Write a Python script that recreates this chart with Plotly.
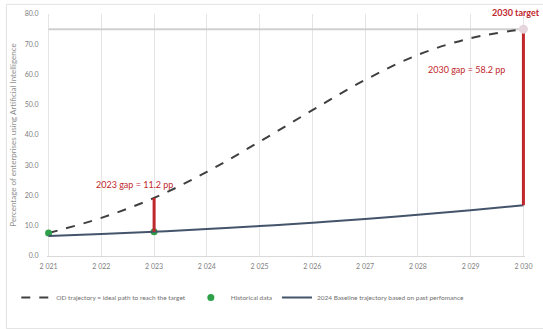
import plotly.graph_objects as go

years = [2021, 2022, 2023, 2024, 2025, 2026, 2027, 2028, 2029, 2030]
year_labels = ["2 021", "2 022", "2 023", "2 024", "2 025", "2 026", "2 027", "2 028", "2 029", "2 030"]
od_path = [7.6, 12.6, 19.2, 27.8, 37.8, 48.2, 58.2, 66.5, 72.0, 75.0]
baseline = [6.6, 7.3, 8.0, 8.9, 9.9, 11.0, 12.2, 13.6, 15.1, 16.8]
hist_years = [2021, 2023]
hist_values = [7.6, 8.0]
target_year = 2030
target_value = 75.0
gap_years = [2023, 2030]
gap_low = [8.0, 16.8]
gap_high = [19.2, 75.0]
y_ticks = [0, 10, 20, 30, 40, 50, 60, 70, 80]

FONT = "Lato, Open Sans, sans-serif"
RED = "#c0272d"

fig = go.Figure()

# target level
fig.add_trace(go.Scatter(x=[years[0], years[-1]], y=[target_value, target_value], mode="lines",
                         line=dict(color="#d0d0d0", width=2), showlegend=False, hoverinfo="skip"))

fig.add_trace(go.Scatter(x=years, y=od_path, mode="lines", name="OD trajectory = ideal path to reach the target",
                         line=dict(color="#404040", width=2, dash="dash", shape="spline"), legendrank=1))
fig.add_trace(go.Scatter(x=hist_years, y=hist_values, mode="markers", name="Historical data",
                         marker=dict(color="#2ea04a", size=7), cliponaxis=False, legendrank=2))
fig.add_trace(go.Scatter(x=years, y=baseline, mode="lines", name="2024 Baseline trajectory based on past perfomance",
                         line=dict(color="#44546a", width=2, shape="spline"), legendrank=3))

# gap bars
for gx, lo, hi in zip(gap_years, gap_low, gap_high):
    fig.add_trace(go.Scatter(x=[gx, gx], y=[lo, hi], mode="lines", line=dict(color=RED, width=3),
                             showlegend=False, hoverinfo="skip"))

fig.add_trace(go.Scatter(x=[target_year], y=[target_value], mode="markers",
                         marker=dict(color="#e6d5dc", size=9), showlegend=False, hoverinfo="skip",
                         cliponaxis=False))

fig.add_annotation(x=2023, y=23.5, xshift=-20, text=f"2023 gap = {gap_high[0] - gap_low[0]:.1f} pp",
                   showarrow=False, font=dict(color=RED, size=9, family=FONT))
fig.add_annotation(x=2030, y=61.5, xanchor="right", xshift=-16,
                   text=f"2030 gap = {gap_high[1] - gap_low[1]:.1f} pp",
                   showarrow=False, font=dict(color=RED, size=9, family=FONT))
fig.add_annotation(x=1.036, xref="paper", y=1.0, yref="paper", xanchor="right", yanchor="middle",
                   yshift=2, text="<b>2030 target</b>",
                   showarrow=False, font=dict(color=RED, size=9, family=FONT))

# outer frame
fig.add_shape(type="rect", xref="paper", yref="paper", x0=-0.085, x1=1.05, y0=-0.3, y1=1.04,
              line=dict(color="#e2e2e2", width=1))

fig.update_layout(
    width=543, height=329,
    margin=dict(l=47, r=18, t=14, b=73, autoexpand=False),
    paper_bgcolor="white", plot_bgcolor="white",
    font=dict(family=FONT, color="#808080", size=7),
    showlegend=True,
    legend=dict(orientation="h", x=0.03, xref="container", y=0.14, yref="container",
                xanchor="left", yanchor="top",
                font=dict(size=6.5, color="#707070", family=FONT), itemwidth=30, tracegroupgap=0),
)
fig.update_xaxes(range=[2020.97, 2030.03], tickvals=years, ticktext=year_labels, showgrid=True,
                 gridcolor="#e4e4e4", gridwidth=1, showline=True, linecolor="#d9d9d9",
                 ticks="outside", ticklen=4, tickcolor="white",
                 zeroline=False, tickfont=dict(size=7, color="#808080"))
fig.update_yaxes(range=[0, 80], tickvals=y_ticks, tickformat=".1f", showgrid=False, zeroline=False,
                 showline=False, ticks="outside", ticklen=6, tickcolor="white",
                 tickfont=dict(size=7, color="#808080"),
                 title=dict(text="Percentage of enterprises using Artificial Intelligence",
                            font=dict(size=8, color="#909090"), standoff=6))

fig.write_html("out.html")
